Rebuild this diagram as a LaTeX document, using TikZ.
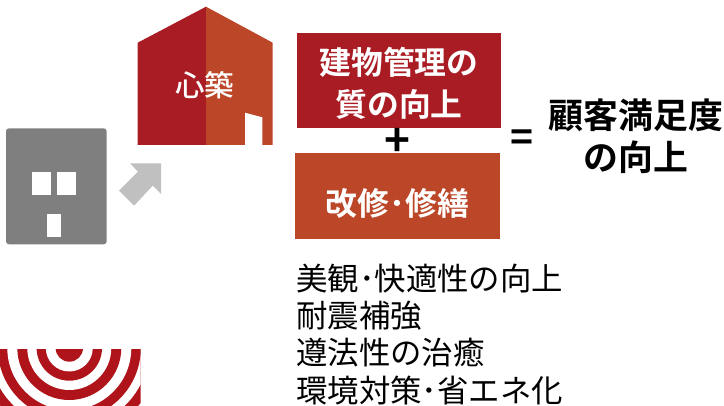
\documentclass[tikz,border=0pt]{standalone}
\usepackage{fontspec}
\newfontfamily\jpb{Noto Sans CJK JP Bold}
\newfontfamily\jpr{Noto Sans CJK JP}
\newfontfamily\jpm{Noto Sans CJK JP Medium}
\definecolor{crim}{HTML}{A91C23}
\definecolor{ringred}{HTML}{B0141B}
\definecolor{rust}{HTML}{BB4628}
\definecolor{bgrey}{HTML}{7F7F7F}
\definecolor{agrey}{HTML}{C0C0C0}
\tikzset{
  boxtext/.style={inner sep=0pt,text=white,font=\jpb\fontsize{31.8}{42}\selectfont,align=center},
  blacktext/.style={inner sep=0pt,text=black,font=\jpb\fontsize{34.9}{42}\selectfont,align=center},
  listtext/.style={inner sep=0pt,anchor=west,text=black,font=\jpr\fontsize{31.4}{37}\selectfont},
  plustext/.style={inner sep=0pt,text=black,font=\jpb\fontsize{44}{44}\selectfont},
  equaltext/.style={inner sep=0pt,text=black,font=\jpb\fontsize{39}{39}\selectfont},
}
\begin{document}
\begin{tikzpicture}[x=1pt,y=-1pt]
\useasboundingbox (0,0) rectangle (724,406);
% house
\fill[crim] (206,6.7) -- (137.7,42.7) -- (137.7,145) -- (206,145) -- cycle;
\fill[rust] (206,6.7) -- (272.7,42.7) -- (272.7,145) -- (206,145) -- cycle;
\fill[white] (245,112.7) -- (262.3,117.3) -- (262.3,145) -- (245,145) -- cycle;
\node[inner sep=0pt,text=white,font=\jpm\fontsize{29.5}{29.5}\selectfont] (logo) at (204.5,85) {心築};
% grey building
\fill[bgrey,rounded corners=3pt] (6,128.3) rectangle (106.7,244.3);
\fill[white] (31.7,172) rectangle (51,194.7);
\fill[white] (56.7,172) rectangle (76.3,194.7);
\fill[white] (47.3,214) rectangle (60.7,236.7);
% arrow
\fill[agrey] (130,163.3) -- (161,163.3) -- (161,194) -- (152.7,185.7) -- (134,205.7) -- (119,190.7) -- (138,171.7) -- cycle;
% concentric mark
\begin{scope}
\clip (0,350) rectangle (140.5,406);
\fill[ringred] (69.3,348) circle (90);
\fill[white] (69.3,348) circle (80);
\fill[ringred] (69.3,348) circle (71.5);
\fill[white] (69.3,348) circle (62);
\fill[ringred] (69.3,348) circle (52);
\fill[white] (69.3,348) circle (42);
\fill[ringred] (69.3,348) circle (32.7);
\fill[white] (69.3,348) circle (23.5);
\fill[ringred] (69.3,348) circle (13.7);
\end{scope}
% boxes
\fill[crim] (297,33) rectangle (501,127.7);
\fill[rust] (295,153) rectangle (500,238.7);
\node[boxtext] (quality) at (399,83.5) {建物管理の\\質の向上};
\node[boxtext] (repair) at (397.5,203) {改修･修繕};
\node[plustext] (plus) at (397,142) {+};
\node[equaltext] (equals) at (522.5,141) {=};
\node[blacktext] (result) at (636,136) {顧客満足度\\の向上};
% list
\node[listtext] (l1) at (296,279) {美観･快適性の向上};
\node[listtext] (l2) at (296,316) {耐震補強};
\node[listtext] (l3) at (296,353) {遵法性の治癒};
\node[listtext] (l4) at (296,391) {環境対策･省エネ化};
\end{tikzpicture}
\end{document}
